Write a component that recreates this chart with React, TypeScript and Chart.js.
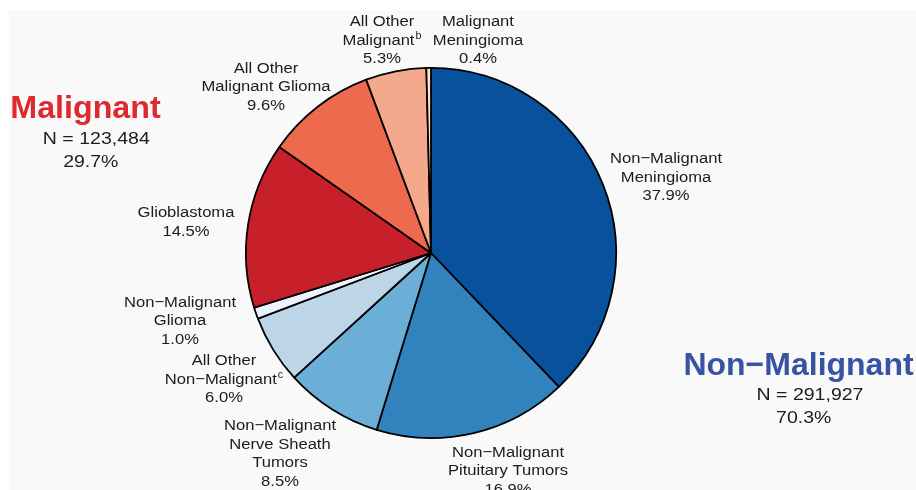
import React, { useEffect, useRef } from "react";
import { Chart, registerables } from "chart.js";

Chart.register(...registerables);

// ---------- data ----------
const categories = [
  "Non−Malignant Meningioma",
  "Non−Malignant Pituitary Tumors",
  "Non−Malignant Nerve Sheath Tumors",
  "All Other Non−Malignant",
  "Non−Malignant Glioma",
  "Glioblastoma",
  "All Other Malignant Glioma",
  "All Other Malignant",
  "Malignant Meningioma",
];
const percentages = [37.9, 16.9, 8.5, 6.0, 1.0, 14.5, 9.6, 5.3, 0.4];
const labelNameLines: string[][] = [
  ["Non−Malignant", "Meningioma"],
  ["Non−Malignant", "Pituitary Tumors"],
  ["Non−Malignant", "Nerve Sheath", "Tumors"],
  ["All Other", "Non−Malignant"],
  ["Non−Malignant", "Glioma"],
  ["Glioblastoma"],
  ["All Other", "Malignant Glioma"],
  ["All Other", "Malignant"],
  ["Malignant", "Meningioma"],
];
// superscript footnote markers: [slice index, line index, marker]
const footnotes: [number, number, string][] = [
  [7, 1, "b"],
  [3, 1, "c"],
];
const groupNames = ["Malignant", "Non−Malignant"];
const groupCounts = [123484, 291927];
const groupPercents = [29.7, 70.3];

// ---------- styles / layout ----------
const sliceColors = [
  "#08519c",
  "#3182bd",
  "#6baed6",
  "#bcd5e7",
  "#eef3fb",
  "#c8202a",
  "#ee6a4f",
  "#f4a98c",
  "#fde2d6",
];
// label block offsets from pie centre: [dx of centre, dy of first baseline]
const labelOffsets: [number, number][] = [
  [235, -89.7],
  [77, 203.7],
  [-151, 177],
  [-207, 112],
  [-251, 53.7],
  [-245, -35.7],
  [-165, -180.3],
  [-49, -227],
  [47, -227],
];
const groupLayout = [
  { color: "#de2a2f", big: [85.5, 118], n: [96.3, 144], p: [90.8, 166.5] },
  { color: "#3953a4", big: [798.5, 375], n: [810, 400], p: [803.7, 422.5] },
];

const FONT = '"Liberation Sans", Arial, Helvetica, sans-serif';
const TEXT = "#1c1c1c";

function drawText(
  ctx: CanvasRenderingContext2D,
  text: string,
  x: number,
  y: number,
  font: string,
  color: string,
  sx: number
) {
  ctx.save();
  ctx.translate(x, y);
  ctx.scale(sx, 1);
  ctx.font = font;
  ctx.fillStyle = color;
  ctx.textAlign = "center";
  ctx.textBaseline = "alphabetic";
  ctx.fillText(text, 0, 0);
  ctx.restore();
}

const bgPlugin = {
  id: "bgPlugin",
  beforeDraw(chart: any) {
    const ctx = chart.ctx as CanvasRenderingContext2D;
    ctx.save();
    ctx.fillStyle = "#ffffff";
    ctx.fillRect(0, 0, chart.width, chart.height);
    ctx.fillStyle = "#f9f9f9";
    ctx.fillRect(9, 10, chart.width - 9, chart.height - 10);
    ctx.restore();
  },
};

const labelPlugin = {
  id: "labelPlugin",
  afterDatasetsDraw(chart: any) {
    const ctx = chart.ctx as CanvasRenderingContext2D;
    const meta = chart.getDatasetMeta(0);
    const arc0 = meta.data[0];
    const cx = arc0.x;
    const cy = arc0.y;
    const lh = 18.5;
    const labelFont = `15.5px ${FONT}`;
    const sx = 1.07;
    ctx.save();
    ctx.font = labelFont;
    percentages.forEach((v, i) => {
      const lines = [...labelNameLines[i], `${v.toFixed(1)}%`];
      const [dx, dy] = labelOffsets[i];
      lines.forEach((line, li) => {
        const fn = footnotes.find((f) => f[0] === i && f[1] === li);
        const y = cy + dy + li * lh;
        if (fn) {
          ctx.font = labelFont;
          const w = ctx.measureText(line).width * sx;
          ctx.font = `10px ${FONT}`;
          const ws = ctx.measureText(fn[2]).width * sx;
          const total = w + ws + 1;
          const left = cx + dx - total / 2;
          drawText(ctx, line, left + w / 2, y, labelFont, TEXT, sx);
          drawText(ctx, fn[2], left + w + 1 + ws / 2, y - 6, `10px ${FONT}`, TEXT, sx);
        } else {
          drawText(ctx, line, cx + dx, y, labelFont, TEXT, sx);
        }
      });
    });
    groupNames.forEach((g, i) => {
      const L = groupLayout[i];
      drawText(ctx, g, L.big[0], L.big[1], `bold ${i === 0 ? 31 : 32}px ${FONT}`, L.color, i === 0 ? 1.04 : 1.0);
      drawText(ctx, `N = ${groupCounts[i].toLocaleString("en-US")}`, L.n[0], L.n[1], `16px ${FONT}`, TEXT, 1.22);
      drawText(ctx, `${groupPercents[i].toFixed(1)}%`, L.p[0], L.p[1], `16px ${FONT}`, TEXT, 1.22);
    });
    ctx.restore();
  },
};

export default function App() {
  const ref = useRef<HTMLCanvasElement | null>(null);
  useEffect(() => {
    if (!ref.current) return;
    const chart = new Chart(ref.current, {
      type: "pie",
      data: {
        labels: categories,
        datasets: [
          {
            data: percentages,
            backgroundColor: sliceColors,
            borderColor: "#000000",
            borderWidth: 1.8,
          },
        ],
      },
      options: {
        responsive: false,
        animation: false,
        devicePixelRatio: 1,
        layout: { padding: { left: 245, right: 299, top: 67, bottom: 51 } },
        plugins: {
          legend: { display: false },
          tooltip: { enabled: false },
        },
      },
      plugins: [bgPlugin, labelPlugin],
    });
    return () => chart.destroy();
  }, []);
  return (
    <div style={{ position: "fixed", left: 0, top: 0, width: 916, height: 490 }}>
      <canvas ref={ref} width={916} height={490} style={{ width: 916, height: 490, display: "block" }} />
    </div>
  );
}
